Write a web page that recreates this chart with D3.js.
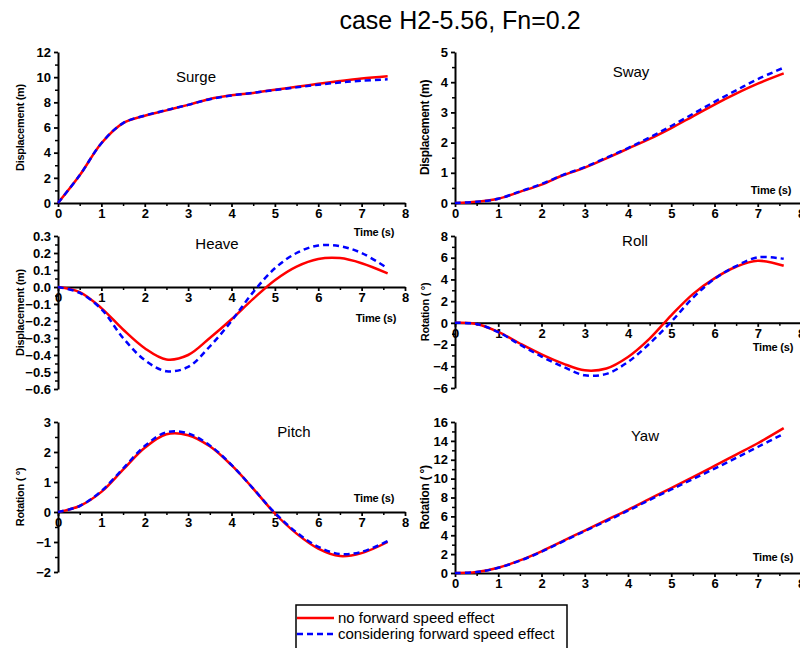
<!DOCTYPE html>
<html>
<head>
<meta charset="utf-8">
<script src="https://cdn.jsdelivr.net/npm/d3@7"></script>
<style>
  html, body { margin: 0; padding: 0; background: #fff; }
  svg { display: block; font-family: "Liberation Sans", Arial, sans-serif; }
</style>
</head>
<body>
<svg id="chart" width="800" height="648"></svg>
<script>
// Time samples (s)
const times = [0, 0.5, 1, 1.5, 2, 2.5, 3, 3.5, 4, 4.5, 5, 5.5, 6, 6.5, 7, 7.6];

// Motion histories: "no forward speed effect" vs "considering forward speed effect"
const surgeNoFwd = [0, 2.2, 4.75, 6.35, 6.93, 7.36, 7.8, 8.27, 8.56, 8.75, 9.0, 9.23, 9.47, 9.7, 9.9, 10.07];
const surgeFwd   = [0, 2.2, 4.75, 6.35, 6.95, 7.38, 7.8, 8.25, 8.55, 8.75, 8.98, 9.2, 9.4, 9.58, 9.72, 9.83];

const swayNoFwd = [0, 0.04, 0.14, 0.37, 0.61, 0.92, 1.17, 1.48, 1.8, 2.12, 2.48, 2.87, 3.26, 3.62, 3.95, 4.29];
const swayFwd   = [0, 0.04, 0.14, 0.38, 0.63, 0.93, 1.19, 1.5, 1.82, 2.17, 2.55, 2.95, 3.35, 3.73, 4.1, 4.48];

const heaveNoFwd = [0, -0.03, -0.124, -0.25, -0.36, -0.426, -0.40, -0.30, -0.19, -0.07, 0.04, 0.12, 0.165, 0.17, 0.14, 0.08];
const heaveFwd   = [0, -0.035, -0.13, -0.30, -0.43, -0.495, -0.47, -0.35, -0.2, -0.03, 0.11, 0.2, 0.244, 0.24, 0.2, 0.11];

const rollNoFwd = [0, -0.1, -0.83, -1.9, -2.9, -3.75, -4.37, -4.2, -3.14, -1.45, 0.7, 2.65, 4.1, 5.17, 5.72, 5.26];
const rollFwd   = [0, -0.1, -0.85, -2.0, -3.1, -4.05, -4.83, -4.7, -3.6, -1.9, 0.1, 2.3, 4.05, 5.23, 6.03, 5.9];

const pitchNoFwd = [0, 0.2, 0.67, 1.41, 2.14, 2.59, 2.56, 2.19, 1.56, 0.78, -0.05, -0.72, -1.22, -1.47, -1.37, -1.0];
const pitchFwd   = [0, 0.2, 0.7, 1.45, 2.2, 2.66, 2.62, 2.22, 1.57, 0.78, -0.03, -0.68, -1.16, -1.4, -1.33, -0.97];

const yawNoFwd = [0, 0.1, 0.56, 1.33, 2.3, 3.4, 4.5, 5.6, 6.7, 7.85, 9.0, 10.16, 11.35, 12.55, 13.75, 15.35];
const yawFwd   = [0, 0.1, 0.55, 1.3, 2.25, 3.35, 4.45, 5.5, 6.6, 7.75, 8.85, 9.95, 11.05, 12.2, 13.35, 14.75];

// Tick values
const timeTicks = [0, 1, 2, 3, 4, 5, 6, 7, 8];
const surgeTicks = [0, 2, 4, 6, 8, 10, 12];
const swayTicks = [0, 1, 2, 3, 4, 5];
const heaveTicks = [-0.6, -0.5, -0.4, -0.3, -0.2, -0.1, 0.0, 0.1, 0.2, 0.3];
const rollTicks = [-6, -4, -2, 0, 2, 4, 6, 8];
const pitchTicks = [-2, -1, 0, 1, 2, 3];
const yawTicks = [0, 2, 4, 6, 8, 10, 12, 14, 16];

const seriesNames = ["no forward speed effect", "considering forward speed effect"];

const svg = d3.select("#chart");
const FONT = '"Liberation Sans", Arial, sans-serif';

// Panel layout
const panels = [
  { title: "Surge", ylabel: "Displacement (m)", a: surgeNoFwd, b: surgeFwd,
    xr: [58, 405], yd: [0, 12], yr: [203, 52], ticks: surgeTicks, minor: 1, fmt: d3.format("d"),
    tpos: [196, 82], xtpos: [374, 236], ylx: 24, ylsize: 11 },
  { title: "Sway", ylabel: "Displacement (m)", a: swayNoFwd, b: swayFwd,
    xr: [455, 801], yd: [0, 5], yr: [203, 52], ticks: swayTicks, minor: 0.5, fmt: d3.format("d"),
    tpos: [631, 77], xtpos: [771, 194], ylx: 429, ylsize: 12 },
  { title: "Heave", ylabel: "Displacement (m)", a: heaveNoFwd, b: heaveFwd,
    xr: [58, 405], yd: [-0.6, 0.3], yr: [389, 236], ticks: heaveTicks, minor: 0.05, fmt: d3.format(".1f"),
    tpos: [217, 249], xtpos: [376, 322], ylx: 24, ylsize: 11 },
  { title: "Roll", ylabel: "Rotation ( °)", a: rollNoFwd, b: rollFwd,
    xr: [455, 801], yd: [-6, 8], yr: [388, 236], ticks: rollTicks, minor: 1, fmt: d3.format("d"),
    tpos: [635, 246], xtpos: [773, 351], ylx: 429, ylsize: 11 },
  { title: "Pitch", ylabel: "Rotation ( °)", a: pitchNoFwd, b: pitchFwd,
    xr: [58, 405], yd: [-2, 3], yr: [572, 422], ticks: pitchTicks, minor: 0.5, fmt: d3.format("d"),
    tpos: [294, 437], xtpos: [374, 502], ylx: 24, ylsize: 11 },
  { title: "Yaw", ylabel: "Rotation ( °)", a: yawNoFwd, b: yawFwd,
    xr: [455, 801], yd: [0, 16], yr: [573, 422], ticks: yawTicks, minor: 1, fmt: d3.format("d"),
    tpos: [645, 441], xtpos: [773, 561], ylx: 429, ylsize: 12 }
];

function range(lo, hi, step) {
  const out = [];
  const n = Math.round((hi - lo) / step);
  for (let i = 0; i <= n; i++) out.push(+(lo + i * step).toFixed(6));
  return out;
}

panels.forEach(p => {
  const x = d3.scaleLinear().domain([0, 8]).range(p.xr);
  const y = d3.scaleLinear().domain(p.yd).range(p.yr);
  const g = svg.append("g");
  const y0 = y(0);

  // minor ticks
  const xMinor = range(0, 8, 0.5).filter(v => !timeTicks.includes(v));
  const yMinor = range(p.yd[0], p.yd[1], p.minor).filter(v => !p.ticks.some(t => Math.abs(t - v) < 1e-6));

  g.append("g").attr("transform", `translate(0,${y0})`)
    .call(d3.axisBottom(x).tickValues(xMinor).tickSize(3).tickFormat(""))
    .call(a => a.select(".domain").remove())
    .selectAll("line").attr("stroke-width", 1.5);
  g.append("g").attr("transform", `translate(${p.xr[0]},0)`)
    .call(d3.axisLeft(y).tickValues(yMinor).tickSize(3).tickFormat(""))
    .call(a => a.select(".domain").remove())
    .selectAll("line").attr("stroke-width", 1.5);

  // x axis
  const xa = g.append("g").attr("transform", `translate(0,${y0})`)
    .call(d3.axisBottom(x).tickValues(timeTicks).tickSize(4).tickSizeOuter(0).tickPadding(2).tickFormat(d3.format("d")));
  // y axis
  const ya = g.append("g").attr("transform", `translate(${p.xr[0]},0)`)
    .call(d3.axisLeft(y).tickValues(p.ticks).tickSize(4).tickSizeOuter(0).tickPadding(3).tickFormat(p.fmt));

  [xa, ya].forEach(a => {
    a.select(".domain").attr("stroke-width", 2);
    a.selectAll(".tick line").attr("stroke-width", 1.8);
    a.selectAll("text").attr("font-family", FONT).attr("font-size", 13)
      .attr("font-weight", "bold").attr("fill", "#000");
  });

  // curves
  const line = d3.line().x((d, i) => x(times[i])).y(d => y(d)).curve(d3.curveCatmullRom.alpha(0.5));
  g.append("path").datum(p.a).attr("d", line)
    .attr("fill", "none").attr("stroke", "#ff0000").attr("stroke-width", 2.5);
  g.append("path").datum(p.b).attr("d", line)
    .attr("fill", "none").attr("stroke", "#0000ff").attr("stroke-width", 2.5)
    .attr("stroke-dasharray", "6,4");

  // panel title
  g.append("text").attr("x", p.tpos[0]).attr("y", p.tpos[1])
    .attr("text-anchor", "middle").attr("font-size", 15).attr("fill", "#000")
    .text(p.title);

  // x-axis title
  g.append("text").attr("x", p.xtpos[0]).attr("y", p.xtpos[1])
    .attr("text-anchor", "middle").attr("font-size", 11).attr("font-weight", "bold")
    .attr("letter-spacing", -0.2).attr("fill", "#000")
    .text("Time (s)");

  // y-axis title
  const ymid = (p.yr[0] + p.yr[1]) / 2;
  g.append("text")
    .attr("transform", `translate(${p.ylx},${ymid}) rotate(-90)`)
    .attr("text-anchor", "middle").attr("font-size", p.ylsize).attr("font-weight", "bold")
    .attr("letter-spacing", -0.3).attr("fill", "#000")
    .text(p.ylabel);
});

// main title
svg.append("text").attr("x", 460).attr("y", 29)
  .attr("text-anchor", "middle").attr("font-size", 25).attr("fill", "#000")
  .text("case H2-5.56, Fn=0.2");

// legend
const lg = svg.append("g");
lg.append("rect").attr("x", 296).attr("y", 605).attr("width", 271).attr("height", 60)
  .attr("fill", "#fff").attr("stroke", "#000").attr("stroke-width", 1.5);
const legendStyles = [
  { color: "#ff0000", dash: null, y: 618 },
  { color: "#0000ff", dash: "6,4", y: 634 }
];
seriesNames.forEach((name, i) => {
  const s = legendStyles[i];
  lg.append("line").attr("x1", 297).attr("x2", 334).attr("y1", s.y).attr("y2", s.y)
    .attr("stroke", s.color).attr("stroke-width", 2.5)
    .attr("stroke-dasharray", s.dash);
  lg.append("text").attr("x", 338).attr("y", s.y + 5)
    .attr("font-size", 15).attr("fill", "#000").text(name);
});
</script>
</body>
</html>
